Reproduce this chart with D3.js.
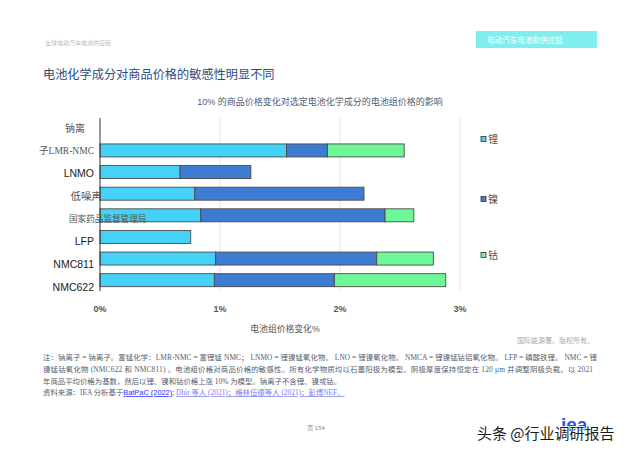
<!DOCTYPE html>
<html lang="zh">
<head>
<meta charset="UTF-8">
<title>电池化学成分对商品价格的敏感性</title>
<script src="https://d3js.org/d3.v7.min.js"></script>
<style>
  body { margin: 0; background: #fff; }
  svg { display: block; font-family: "Liberation Sans", "Noto Sans CJK SC", sans-serif; }
  .grid line { stroke: #e2e2e2; stroke-width: 1; }
  .bar { stroke: #4a4a4a; stroke-width: 0.9; }
  .note { font-family: "Liberation Serif", "Noto Sans CJK SC", serif; font-size: 7.4px; fill: #55606e; }
</style>
</head>
<body>
<script>
// 类别（保持图中文字原样）
const categories = ["钠离", "子LMR-NMC", "LNMO", "低噪声", "国家药品监督管理局", "LFP", "NMC811", "NMC622"];
// 各金属对电池组价格的影响（%）
const lithium = [0, 1.555, 0.667, 0.79, 0.84, 0.756, 0.964, 0.953];
const nickel  = [0, 0.34, 0.59, 1.41, 1.535, 0, 1.342, 1.0];
const cobalt  = [0, 0.64, 0, 0, 0.24, 0, 0.472, 0.928];
const seriesNames = ["锂", "镍", "钴"];
const xTicks = [0, 1, 2, 3];

const colors = { "锂": "#45d2f8", "镍": "#3e7bd3", "钴": "#6ef797" };

const W = 640, H = 453;
const svg = d3.select("body").append("svg").attr("width", W).attr("height", H);

// 页眉
svg.append("text").attr("x", 45).attr("y", 45)
  .attr("font-size", 6).attr("fill", "#bbb").text("全球电动汽车电池供应链");
svg.append("rect").attr("x", 476).attr("y", 31).attr("width", 121).attr("height", 17)
  .attr("fill", "#80eeee");
svg.append("text").attr("x", 487).attr("y", 42.5)
  .attr("font-size", 7.6).attr("fill", "#fff").text("电动汽车电池和供应链");

svg.append("text").attr("x", 43).attr("y", 79)
  .attr("font-size", 12.2).attr("fill", "#2d4b82")
  .attr("font-family", "'Noto Sans CJK SC', sans-serif")
  .text("电池化学成分对商品价格的敏感性明显不同");

svg.append("text").attr("x", 320).attr("y", 105).attr("text-anchor", "middle")
  .attr("font-size", 9).attr("fill", "#4f5b73")
  .text("10% 的商品价格变化对选定电池化学成分的电池组价格的影响");

// 比例尺
const x = d3.scaleLinear().domain([0, 3]).range([100, 460]);
const y = d3.scaleBand().domain(categories).range([118, 291])
  .paddingInner(0.4).paddingOuter(0.2);
const yLabel = d3.scalePoint().domain(categories).range([128, 287]);

// 网格线
svg.append("g").attr("class", "grid")
  .selectAll("line").data(xTicks.slice(1)).join("line")
  .attr("x1", d => x(d)).attr("x2", d => x(d))
  .attr("y1", 118).attr("y2", 291);

// 堆叠数据
const rows = categories.map((c, i) => ({ cat: c, "锂": lithium[i], "镍": nickel[i], "钴": cobalt[i] }));
const stack = d3.stack().keys(seriesNames)(rows);

svg.append("g").selectAll("g").data(stack).join("g")
  .attr("fill", d => colors[d.key])
  .selectAll("rect").data(d => d.filter(p => p[1] - p[0] > 0)).join("rect")
  .attr("class", "bar")
  .attr("x", d => x(d[0]))
  .attr("width", d => x(d[1]) - x(d[0]))
  .attr("y", d => y(d.data.cat))
  .attr("height", y.bandwidth());

// 纵轴线
svg.append("line").attr("x1", x(0)).attr("x2", x(0)).attr("y1", 118).attr("y2", 291)
  .attr("stroke", "#333").attr("stroke-width", 1);

// 类别标签
const labelStyle = {
  "钠离": { anchor: "end", dx: -9, serif: true, size: 10 },
  "子LMR-NMC": { anchor: "end", dx: 0, serif: true, size: 9.5 },
  "低噪声": { anchor: "end", dx: 8, serif: false, size: 10.5, gray: true },
  "国家药品监督管理局": { anchor: "start", dx: -25, serif: false, size: 8.6, gray: true }
};
svg.append("g").selectAll("text").data(categories).join("text")
  .attr("x", d => 94 + (labelStyle[d] ? labelStyle[d].dx : 0))
  .attr("y", d => yLabel(d))
  .attr("dy", "0.35em")
  .attr("text-anchor", d => labelStyle[d] ? labelStyle[d].anchor : "end")
  .attr("font-size", d => labelStyle[d] ? labelStyle[d].size : 10.5)
  .attr("font-family", d => labelStyle[d] && labelStyle[d].serif
    ? "'Liberation Serif', 'Noto Sans CJK SC', serif" : null)
  .attr("fill", d => labelStyle[d] ? "#555" : "#222")
  .text(d => d);

// 横轴刻度
svg.append("g").selectAll("text").data(xTicks).join("text")
  .attr("x", d => x(d)).attr("y", 312).attr("text-anchor", "middle")
  .attr("font-size", 9).attr("font-weight", "bold").attr("fill", "#555")
  .text(d => d + "%");

svg.append("text").attr("x", 285).attr("y", 332).attr("text-anchor", "middle")
  .attr("font-size", 8.8).attr("fill", "#555").text("电池组价格变化%");

// 图例
const legendY = { "锂": 139, "镍": 199, "钴": 255 };
const lg = svg.append("g").selectAll("g").data(seriesNames).join("g")
  .attr("transform", d => `translate(481,${legendY[d]})`);
lg.append("rect").attr("x", 0).attr("y", -2.5).attr("width", 5).attr("height", 5)
  .attr("fill", d => colors[d]).attr("stroke", "#333").attr("stroke-width", 0.8);
lg.append("text").attr("x", 7).attr("dy", "0.35em")
  .attr("font-size", 10).attr("fill", "#555").text(d => d);

svg.append("text").attr("x", 594).attr("y", 343).attr("text-anchor", "end")
  .attr("font-size", 7).attr("fill", "#aaa").text("国际能源署。版权所有。");

// 注释
const notes = [
  "注：钠离子 = 钠离子。富锰化学：LMR-NMC = 富锂锰 NMC； LNMO = 锂镍锰氧化物。 LNO = 锂镍氧化物。 NMCA = 锂镍锰钴铝氧化物。 LFP = 磷酸铁锂。 NMC = 锂",
  "镍锰钴氧化物 (NMC622 和 NMC811) 。电池组价格对商品价格的敏感性。所有化学物质均以石墨阳极为模型。阴极厚度保持恒定在 120 μm 并调整阴极负载。以 2021",
  "年商品平均价格为基数，然后以锂、镍和钴价格上涨 10% 为模型。钠离子不含锂、镍或钴。"
];
const noteY = [360, 372, 383.5];
const noteLen = [554, 550, null];
notes.forEach((t, i) => {
  const el = svg.append("text").attr("class", "note").attr("x", 43).attr("y", noteY[i]).text(t);
  if (noteLen[i]) el.attr("textLength", noteLen[i]).attr("lengthAdjust", "spacing");
});
const src = svg.append("text").attr("class", "note").attr("x", 43).attr("y", 395);
src.append("tspan").text("资料来源：IEA 分析基于");
src.append("tspan").attr("fill", "#1f2bff").attr("font-family", "'Liberation Sans', sans-serif")
  .attr("text-decoration", "underline").text("BatPaC (2022)");
src.append("tspan").attr("fill", "#333").text("; ");
src.append("tspan").attr("fill", "#7b7bf5").attr("text-decoration", "underline")
  .text("Dhir 等人 (2021)；格林伍德等人 (2021)；彭博NEF。");

// 页码
svg.append("text").attr("x", 316).attr("y", 430).attr("text-anchor", "middle")
  .attr("font-size", 6).attr("fill", "#888").text("页 154");

// 标志和水印（参考图中水印压在标志上）
svg.append("text").attr("x", 561).attr("y", 431).attr("font-size", 19).attr("font-weight", "bold")
  .attr("fill", "#1f5ae6").text("iea");
svg.append("text").attr("x", 477).attr("y", 439)
  .attr("font-family", "'Noto Sans CJK SC', sans-serif").attr("font-size", 15)
  .attr("fill", "#1a1a1a").attr("stroke", "#fff").attr("stroke-width", 1.5)
  .attr("paint-order", "stroke").text("头条 @行业调研报告");
</script>
</body>
</html>
